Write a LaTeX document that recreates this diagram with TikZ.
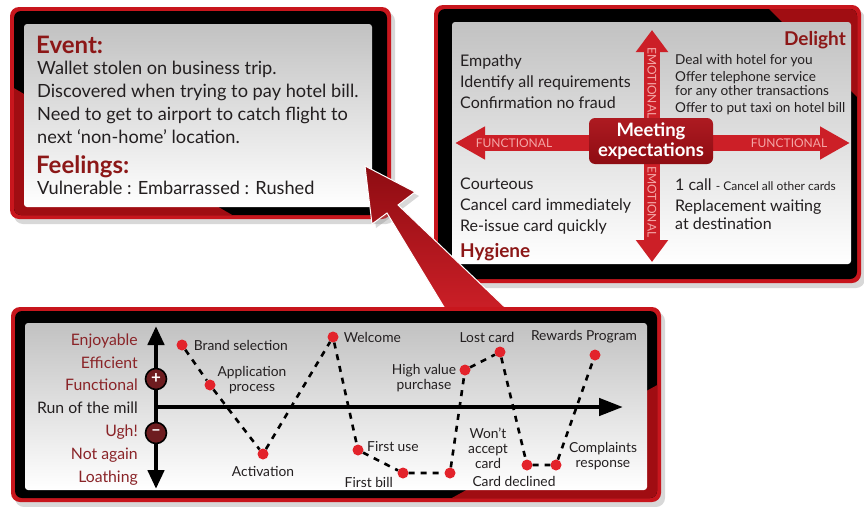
\documentclass[tikz,border=0pt]{standalone}
\usepackage{fontspec}
\setmainfont{Lato}
\usetikzlibrary{arrows.meta,positioning,shadows}
\definecolor{framered}{HTML}{C8161D}
\definecolor{bandred}{HTML}{A00D12}
\definecolor{headred}{HTML}{8C1717}
\definecolor{ink}{HTML}{231F20}
\definecolor{armred}{HTML}{CC1F27}
\definecolor{armdark}{HTML}{8E0C12}
\definecolor{pale}{HTML}{F4A6A6}
\definecolor{dotred}{HTML}{E3232B}
\definecolor{levred}{HTML}{8A2428}
\tikzset{
  outer/.style    = {fill=framered, rounded corners=9pt,
                     drop shadow={shadow xshift=4pt, shadow yshift=-5pt, opacity=.3}},
  bandblk/.style  = {fill=black, rounded corners=7pt},
  inner/.style    = {top color=black!24, bottom color=white, rounded corners=3pt},
  headtxt/.style  = {font=\fontsize{24}{26}\selectfont\bfseries, text=headred, inner sep=0pt},
  subhead/.style  = {font=\fontsize{19}{22}\selectfont\bfseries, text=headred, inner sep=0pt},
  bodytxt/.style  = {font=\fontsize{18.2}{23}\selectfont, text=ink, inner sep=0pt, align=left},
  listtxt/.style  = {font=\fontsize{16}{21}\selectfont, text=ink, inner sep=0pt, align=left},
  smalltxt/.style = {font=\fontsize{13.6}{14.5}\selectfont, text=ink, inner sep=0pt, align=left},
  arm/.style      = {draw=armred, line width=16pt},
  armlab/.style   = {font=\fontsize{12}{13}\selectfont, text=pale, inner sep=0pt},
  hubbox/.style   = {top color=armred!85!black, bottom color=armdark, rounded corners=6pt,
                     minimum width=124pt, minimum height=46pt, inner sep=0pt, align=center,
                     text=white, font=\fontsize{18.5}{19.5}\selectfont\bfseries},
  bigarrow/.style = {top color=armdark, bottom color=armred, draw=white, line width=1pt,
                     drop shadow={shadow xshift=4pt, shadow yshift=-4pt, opacity=.3}},
  axis/.style     = {draw=black, line width=4.5pt},
  sign/.style     = {circle, fill=levred!80!black, draw=black, line width=1.6pt, minimum size=21pt,
                     inner sep=0pt, text=white, font=\fontsize{17}{17}\selectfont\bfseries},
  levtxt/.style   = {font=\fontsize{15.8}{22.8}\selectfont, text=levred, inner sep=0pt, align=right},
  dot/.style      = {circle, fill=dotred, inner sep=0pt, minimum size=11pt},
  ptlab/.style    = {font=\fontsize{13.8}{15}\selectfont, text=ink, inner sep=0pt, align=center},
  trail/.style    = {draw=black, line width=2.6pt, dash pattern=on 6pt off 6pt},
}
\begin{document}
\begin{tikzpicture}[x=1pt,y=-1pt]
\useasboundingbox (0,0) rectangle (864,506);
\fill[white] (0,0) rectangle (864,506);

% event panel
\path[outer] (10,7) rectangle (391,219);
\path[bandblk] (14,11) rectangle (387,215);
\begin{scope}
  \clip[rounded corners=7pt] (14,11) rectangle (387,215);
  \fill[bandred] (0,80) -- (258,230) -- (0,230) -- cycle;
\end{scope}
\path[inner] (24,24) rectangle (372,207);
% base of a multi-line node = its last line
\node[headtxt, anchor=base west] (evt) at (36,53) {Event:};
\node[bodytxt, anchor=base west] (evtbody) at (37,143) {Wallet stolen on business trip.\\Discovered when trying to pay hotel bill.\\Need to get to airport to catch flight to\\next ‘non-home’ location.};
\node[headtxt, anchor=base west] (feel) at (36,173) {Feelings:};
\node[bodytxt, anchor=base west] (feelbody) at (37,194) {Vulnerable : Embarrassed : Rushed};

% expectations panel
\path[outer] (434,5) rectangle (861,283);
\path[bandblk] (438,9) rectangle (857,279);
\begin{scope}
  \clip[rounded corners=7pt] (438,9) rectangle (857,279);
  \fill[bandred] (760,0) -- (870,0) -- (870,110) -- cycle;
\end{scope}
\path[inner] (452,22) rectangle (851,264);
\coordinate (hub) at (652,143);
\coordinate (etop) at (652,30);
\coordinate (ebot) at (652,262);
\coordinate (fleft) at (455,143);
\coordinate (fright) at (850,143);
\draw[arm, -{Triangle[width=31pt,length=22pt]}] (hub) -- (etop);
\draw[arm, -{Triangle[width=31pt,length=22pt]}] (hub) -- (ebot);
\draw[arm, -{Triangle[width=31pt,length=30pt]}] (hub) -- (fleft);
\draw[arm, -{Triangle[width=31pt,length=30pt]}] (hub) -- (fright);
\node[armlab] (funcl) at (514,143) {FUNCTIONAL};
\node[armlab] (funcr) at (789,143) {FUNCTIONAL};
\node[armlab, rotate=-90] (emotu) at (652,83) {EMOTIONAL};
\node[armlab, rotate=-90] (emotd) at (652,202) {EMOTIONAL};
\node[hubbox] (meet) at (651,141) {Meeting\\expectations};
\node[subhead, anchor=base east] (delight) at (846,45) {Delight};
\node[listtxt, anchor=base west] (empathy) at (460,108) {Empathy\\Identify all requirements\\Confirmation no fraud};
\node[smalltxt, anchor=base west] (deal) at (675,112.5) {Deal with hotel for you\\[2.5pt]Offer telephone service\\for any other transactions\\[2.5pt]Offer to put taxi on hotel bill};
\node[listtxt, anchor=base west] (courteous) at (460,231) {Courteous\\Cancel card immediately\\Re-issue card quickly};
\node[subhead, anchor=base west] (hygiene) at (460,257) {Hygiene};
\node[listtxt, anchor=base west] (onecall) at (675,229) {1 call {\fontsize{12}{14}\selectfont - Cancel all other cards}\\Replacement waiting\\[-3pt]at destination};

% pointer
\path[bigarrow] (365,166) -- (415,192) -- (398,205) -- (510,312) -- (447,312) -- (387,213) -- (372,224) -- cycle;

% journey panel
\path[outer] (11,307) rectangle (661,502);
\path[bandblk] (15,311) rectangle (657,498);
\begin{scope}
  \clip[rounded corners=7pt] (15,311) rectangle (657,498);
  \fill[bandred] (430,510) -- (670,378) -- (670,510) -- cycle;
\end{scope}
\path[inner] (25,323) rectangle (647,490);
\coordinate (ytop) at (156,326);
\coordinate (ybot) at (156,489);
\coordinate (orig) at (156,407);
\coordinate (xend) at (623,407);
\draw[axis, {Triangle[width=16pt,length=19pt]}-{Triangle[width=16pt,length=19pt]}] (ybot) -- (ytop);
\draw[axis, -{Triangle[width=17pt,length=24pt]}] (orig) -- (xend);
\node[sign] (plus) at (156,379) {+};
\node[sign] (minus) at (156,433) {–};
\node[levtxt, anchor=base east] (levels) at (138,482) {Enjoyable\\Efficient\\Functional\\\textcolor{ink}{Run of the mill}\\Ugh!\\Not again\\Loathing};

\node[dot] (brand)  at (182,345) {};
\node[dot] (appl)   at (210,385) {};
\node[dot] (activ)  at (263,454) {};
\node[dot] (welc)   at (333,337) {};
\node[dot] (fuse)   at (358,450) {};
\node[dot] (fbill)  at (403,473) {};
\node[dot] (nwon)   at (450,473) {};
\node[dot] (hval)   at (465,370) {};
\node[dot] (lost)   at (500,352) {};
\node[dot] (decl)   at (527,465) {};
\node[dot] (cmpl)   at (556,465) {};
\node[dot] (reward) at (595,355) {};
\draw[trail] (brand) -- (appl) -- (activ) -- (welc) -- (fuse) -- (fbill) -- (nwon)
  -- (hval) -- (lost) -- (decl) -- (cmpl) -- (reward);

\node[ptlab, right=6pt of brand] (brandlab) {Brand selection};
\node[ptlab] (appllab) at (252,380) {Application\\process};
\node[ptlab] (activlab) at (263,471) {Activation};
\node[ptlab, right=5pt of welc] (welclab) {Welcome};
\node[ptlab, anchor=west] (fuselab) at (367,447) {First use};
\node[ptlab, anchor=east] (fbilllab) at (393,482) {First bill};
\node[ptlab] (hvallab) at (424,378) {High value\\purchase};
\node[ptlab] (lostlab) at (487,337) {Lost card};
\node[ptlab] (nwonlab) at (488,448) {Won’t\\accept\\card};
\node[ptlab] (decllab) at (514,481) {Card declined};
\node[ptlab] (cmpllab) at (603,456) {Complaints\\response};
\node[ptlab] (rewardlab) at (584,337) {Rewards Program};
\end{tikzpicture}
\end{document}
